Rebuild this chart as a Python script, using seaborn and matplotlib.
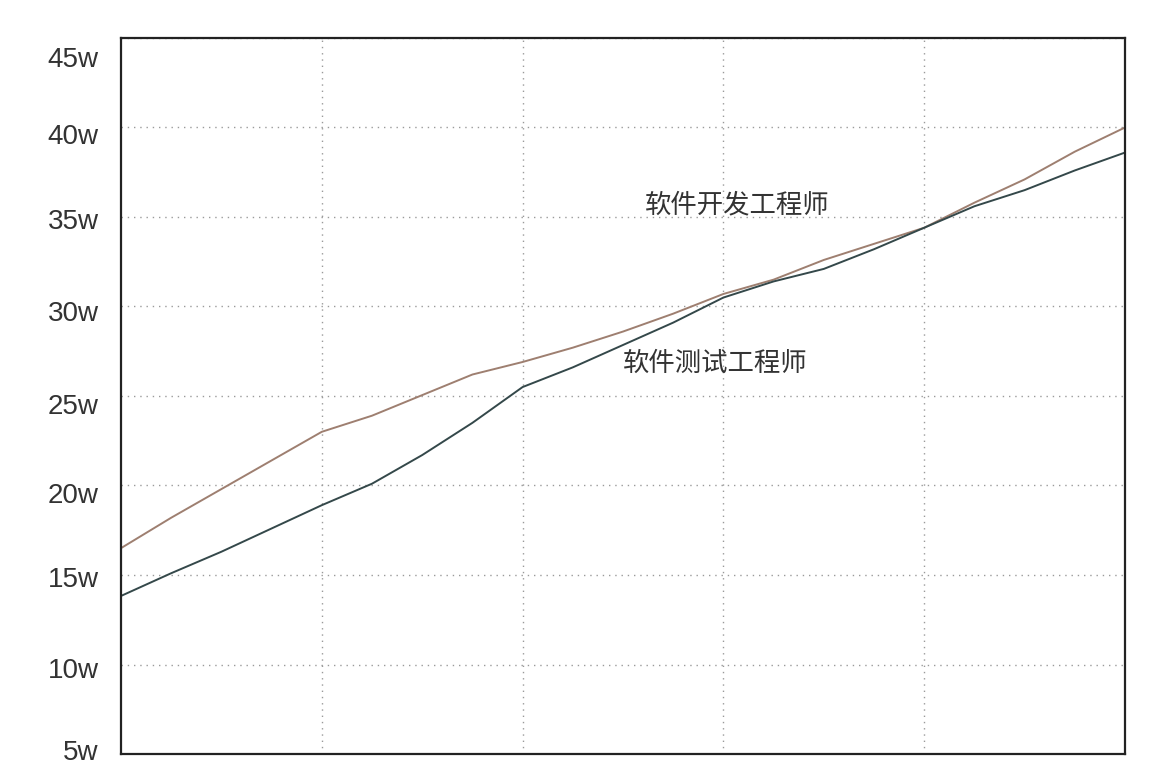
import matplotlib
matplotlib.use("Agg")
import matplotlib.pyplot as plt
import matplotlib.transforms as mtransforms
import seaborn as sns
import pandas as pd

# x positions (years step) and salary values in units of w (万)
x_pos = [0, 0.25, 0.5, 0.75, 1, 1.25, 1.5, 1.75, 2, 2.25, 2.5, 2.75,
         3, 3.25, 3.5, 3.75, 4, 4.25, 4.5, 4.75, 5]
dev_values = [16.5, 18.2, 19.8, 21.4, 23.0, 23.9, 25.05, 26.2, 26.9, 27.7, 28.6, 29.6,
              30.7, 31.5, 32.6, 33.5, 34.4, 35.8, 37.1, 38.65, 40.0]
test_values = [13.83, 15.1, 16.3, 17.6, 18.9, 20.1, 21.7, 23.5, 25.5, 26.6, 27.85, 29.1,
               30.5, 31.4, 32.1, 33.2, 34.4, 35.6, 36.5, 37.6, 38.6]
series_names = ["软件开发工程师", "软件测试工程师"]
y_ticks = [5, 10, 15, 20, 25, 30, 35, 40, 45]
y_tick_labels = ["5w", "10w", "15w", "20w", "25w", "30w", "35w", "40w", "45w"]
x_grid = [1, 2, 3, 4]

sns.set_style("white")
plt.rcParams['font.family'] = ['Noto Sans CJK SC', 'DejaVu Sans']

df = pd.DataFrame({
    "x": x_pos * 2,
    "y": dev_values + test_values,
    "series": [series_names[0]] * len(x_pos) + [series_names[1]] * len(x_pos),
})

fig = plt.figure(figsize=(11.76, 7.64), dpi=100)
ax = fig.add_axes([121 / 1176, 10 / 764, (1125 - 121) / 1176, (754 - 38) / 764])

palette = {series_names[0]: "#9e7f70", series_names[1]: "#34484a"}
sns.lineplot(data=df, x="x", y="y", hue="series", palette=palette,
             linewidth=1.4, legend=False, ax=ax)

ax.set_xlim(0, 5)
ax.set_ylim(5, 45)
ax.set_yticks(y_ticks)
ax.set_yticklabels(y_tick_labels, fontsize=20, color="#333333", family="Liberation Sans")
ax.set_xticks(x_grid)
ax.set_xticklabels([])
ax.tick_params(axis="both", length=0, pad=16)
ax.set_xlabel("")
ax.set_ylabel("")

# small vertical shifts of tick labels (pixels, positive = down) as in the reference
shifts = [-4, 4, 2, 8, 8, 5, 2, 7, 19]
for lab, dy in zip(ax.get_yticklabels(), shifts):
    lab.set_transform(lab.get_transform() +
                      mtransforms.ScaledTranslation(0, -dy / 100, fig.dpi_scale_trans))

ax.grid(True, linestyle=(0, (1, 3.5)), color="#9a9a9a", linewidth=1.0)

for s in ax.spines.values():
    s.set_color("#222222")
    s.set_linewidth(1.6)

ax.text(3.07, 35.7, series_names[0], fontsize=19, color="#333333",
        ha="center", va="center")
ax.text(2.96, 26.8, series_names[1], fontsize=19, color="#333333",
        ha="center", va="center")

fig.savefig("out.png", dpi=100, facecolor="white")
